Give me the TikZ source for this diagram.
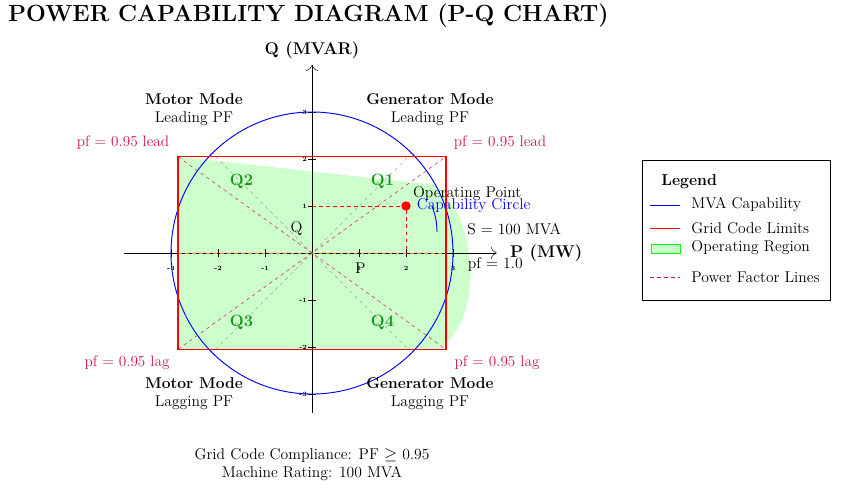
\documentclass[tikz,border=0pt]{standalone}
\usetikzlibrary{arrows.meta}
\definecolor{pfc}{RGB}{204,20,80}
\definecolor{qg}{RGB}{20,150,20}
\begin{document}
\begin{tikzpicture}[x=0.03cm,y=-0.03cm,
  lbl/.style={font=\fontsize{13.3}{15.5}\selectfont,align=center,inner sep=1pt},
  bl/.style={font=\fontsize{14.5}{16}\selectfont\bfseries,inner sep=1pt},
  pfl/.style={font=\fontsize{13}{15}\selectfont,text=pfc,inner sep=1pt},
  ql/.style={font=\fontsize{14}{16}\selectfont\bfseries,text=qg},
  lg/.style={font=\fontsize{13.3}{15}\selectfont,anchor=west,inner sep=1pt},
  tk/.style={font=\fontsize{5.5}{6}\selectfont\bfseries,inner sep=1pt}]
\useasboundingbox (0,0) rectangle (842,495);
\node[anchor=west,font=\fontsize{20}{23}\selectfont\bfseries] (title) at (4,16) {POWER CAPABILITY DIAGRAM (P-Q CHART)};
\begin{scope}[shift={(312,253)},x=1.41cm,y=1.41cm]
 \fill[green!20] (-2.85,2.05) -- (2.6,1.45) .. controls (3.45,0.9) and (3.75,-1.3) .. (2.7,-2.05) -- (-2.85,-2.05) -- cycle;
 \draw[-{To[length=5pt]},thin] (-4,0) -- (3.93,0) coordinate (pend);
 \draw[-{To[length=5pt]},thin] (0,-3.4) -- (0,4.0) coordinate (qend);
 \draw[orange,dashed,thick] (-2.85,0) -- (2.85,0);
 \foreach \v in {-3,-2,-1,1,2,3} {
   \draw (\v,0.08) -- (\v,-0.08);
   \draw (-0.08,\v) -- (0.08,\v);
   \node[tk] at (\v,-0.32) {\v};
   \node[tk,anchor=east] at (-0.08,\v) {\v};
 }
 \draw[gray!70,dashed,thin] (-2.05,-2.05) -- (2.05,2.05) (-2.05,2.05) -- (2.05,-2.05);
 \draw[pfc,dashed,thin] (-2.85,-2.05) -- (2.85,2.05) (-2.85,2.05) -- (2.85,-2.05);
 \draw[blue,thick] (0,0) circle (3);
 \draw[red,very thick] (-2.85,-2.05) rectangle (2.85,2.05);
 \draw[red,dashed,thick] (0,1) -- (2,1) -- (2,0);
 \fill[red] (2,1) circle (0.1);
 \draw[blue,thick] (2.55,1.0) to[bend left=10] (2.66,0.45);
 \node[ql] (q1) at (1.5,1.53) {Q1};
 \node[ql] (q2) at (-1.5,1.53) {Q2};
 \node[ql] (q3) at (-1.5,-1.48) {Q3};
 \node[ql] (q4) at (1.5,-1.48) {Q4};
 \node[lbl,anchor=west] (op) at (2.12,1.27) {Operating Point};
 \node[lbl,anchor=west,text=blue] (cc) at (2.2,1.0) {Capability Circle};
 \node[lbl] (s) at (4.3,0.5) {S = 100 MVA};
 \node[lbl] (pf1) at (3.9,-0.25) {pf = 1.0};
 \node[lbl] (ql) at (-0.33,0.53) {Q};
 \node[lbl] (pl) at (1.03,-0.33) {P};
\end{scope}
\node[font=\fontsize{14.5}{16}\selectfont\bfseries,anchor=west] (pax) at (506,253) {P (MW)};
\node[bl] (qax) at (312,50) {Q (MVAR)};
\node[lbl] (mm1) at (194,110) {\textbf{Motor Mode}\\Leading PF};
\node[lbl] (gm1) at (430,110) {\textbf{Generator Mode}\\Leading PF};
\node[lbl] (mm2) at (194,394) {\textbf{Motor Mode}\\Lagging PF};
\node[lbl] (gm2) at (430,394) {\textbf{Generator Mode}\\Lagging PF};
\node[pfl] (p1) at (123,143) {pf = 0.95 lead};
\node[pfl] (p2) at (500,143) {pf = 0.95 lead};
\node[pfl] (p3) at (127,363) {pf = 0.95 lag};
\node[pfl] (p4) at (497,363) {pf = 0.95 lag};
\node[lbl] (foot) at (312,465) {Grid Code Compliance: PF $\geq$ 0.95\\Machine Rating: 100 MVA};
\draw[thin] (642,160) rectangle (830,300);
\node[bl,anchor=west,font=\fontsize{13.5}{15}\selectfont\bfseries] (lgd) at (660,182) {Legend};
\draw[blue,thick] (650,205) -- (680,205);
\node[lg] (l1) at (690,205) {MVA Capability};
\draw[red,thick] (650,228) -- (680,228);
\node[lg] (l2) at (690,228) {Grid Code Limits};
\draw[green,fill=green!20,thick] (651,244) rectangle (680,253);
\node[lg] (l3) at (690,248) {Operating Region};
\draw[pfc,dashed,thick] (650,277) -- (680,277);
\node[lg] (l4) at (690,277) {Power Factor Lines};
\end{tikzpicture}
\end{document}
